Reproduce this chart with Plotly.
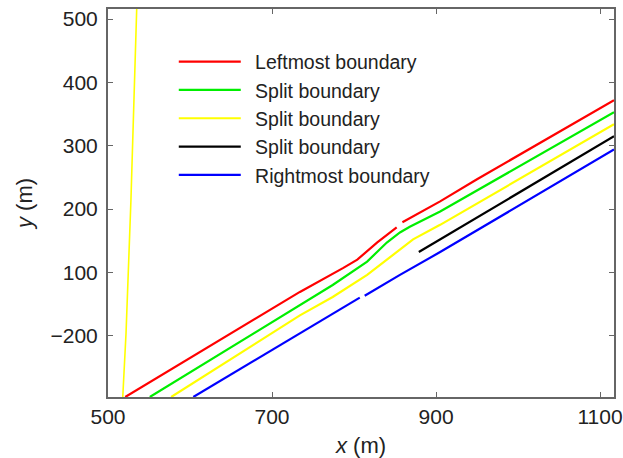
import plotly.graph_objects as go

# Boundary curves (x in m, y in m; None = gap)
red_x = [521, 734, 787, 804, 828, 852, None, 859, 905, 950, 1117]
red_y = [-97, 69, 107, 120, 147, 171, None, 179, 212, 247, 372]

green_x = [551, 734, 774, 816, 840, 856, 868, 905, 1117]
green_y = [-97, 48, 80, 117, 147, 163, 172, 196, 353]

yellow_x = [577, 734, 774, 816, 848, 872, 905, 1117]
yellow_y = [-97, 32, 61, 96, 128, 152, 175, 334]

black_x = [879, 905, 1117]
black_y = [132, 152, 315]

blue_x = [604, 795, 807, None, 813, 856, 905, 1117]
blue_y = [-97, 52, 60, None, 63, 96, 132, 294]

yellow2_x = [518, 522, 528, 535]
yellow2_y = [-97, 4, 215, 516]

names = ["Leftmost boundary", "Split boundary", "Split boundary",
         "Split boundary", "Rightmost boundary"]
colors = ["#FF0000", "#00EE00", "#FFFF00", "#000000", "#0000FF"]

y_tickvals = [0, 100, 200, 300, 400, 500]
y_ticktext = ["\u2212200", "100", "200", "300", "400", "500"]
x_tickvals = [500, 700, 900, 1100]

fig = go.Figure()
series = [(red_x, red_y), (green_x, green_y), (yellow_x, yellow_y),
          (black_x, black_y), (blue_x, blue_y)]
for (xs, ys), nm, c in zip(series, names, colors):
    fig.add_trace(go.Scatter(x=xs, y=ys, mode="lines",
                             name="\u00a0\u2009" + nm,
                             line=dict(color=c, width=2.2),
                             connectgaps=False))
fig.add_trace(go.Scatter(x=yellow2_x, y=yellow2_y, mode="lines",
                         line=dict(color="#FFFF00", width=1.6),
                         showlegend=False))

font_family = "Arial, Liberation Sans, sans-serif"
axis_common = dict(showgrid=False, zeroline=False, showline=True,
                   linecolor="#666666", linewidth=2, mirror="allticks",
                   ticks="inside", ticklen=5, tickcolor="#666666",
                   ticklabeloverflow="allow", automargin=False,
                   tickfont=dict(family=font_family, size=21, color="#222222"))

fig.update_layout(
    width=623, height=458, autosize=False,
    margin=dict(l=108, r=9, t=9, b=61, autoexpand=False),
    paper_bgcolor="white", plot_bgcolor="white",
    font=dict(family=font_family, color="#222222"),
    xaxis=dict(range=[500, 1117], tickvals=x_tickvals,
               title=dict(text="<i>x</i> (m)", font=dict(size=22), standoff=11),
               **axis_common),
    yaxis=dict(range=[-97, 516], tickvals=y_tickvals, ticktext=y_ticktext,
               ticklabelstandoff=4,
               title=dict(text="<i>y</i> (m)", font=dict(size=22), standoff=12),
               **axis_common),
    legend=dict(x=0.13, y=0.914, xanchor="left", yanchor="top",
                bgcolor="rgba(0,0,0,0)", itemwidth=62,
                font=dict(family=font_family, size=19.5, color="#222222"),
                tracegroupgap=0),
)

fig.write_html("out.html", config={"displayModeBar": False},
               post_script="document.body.style.margin='0';")
